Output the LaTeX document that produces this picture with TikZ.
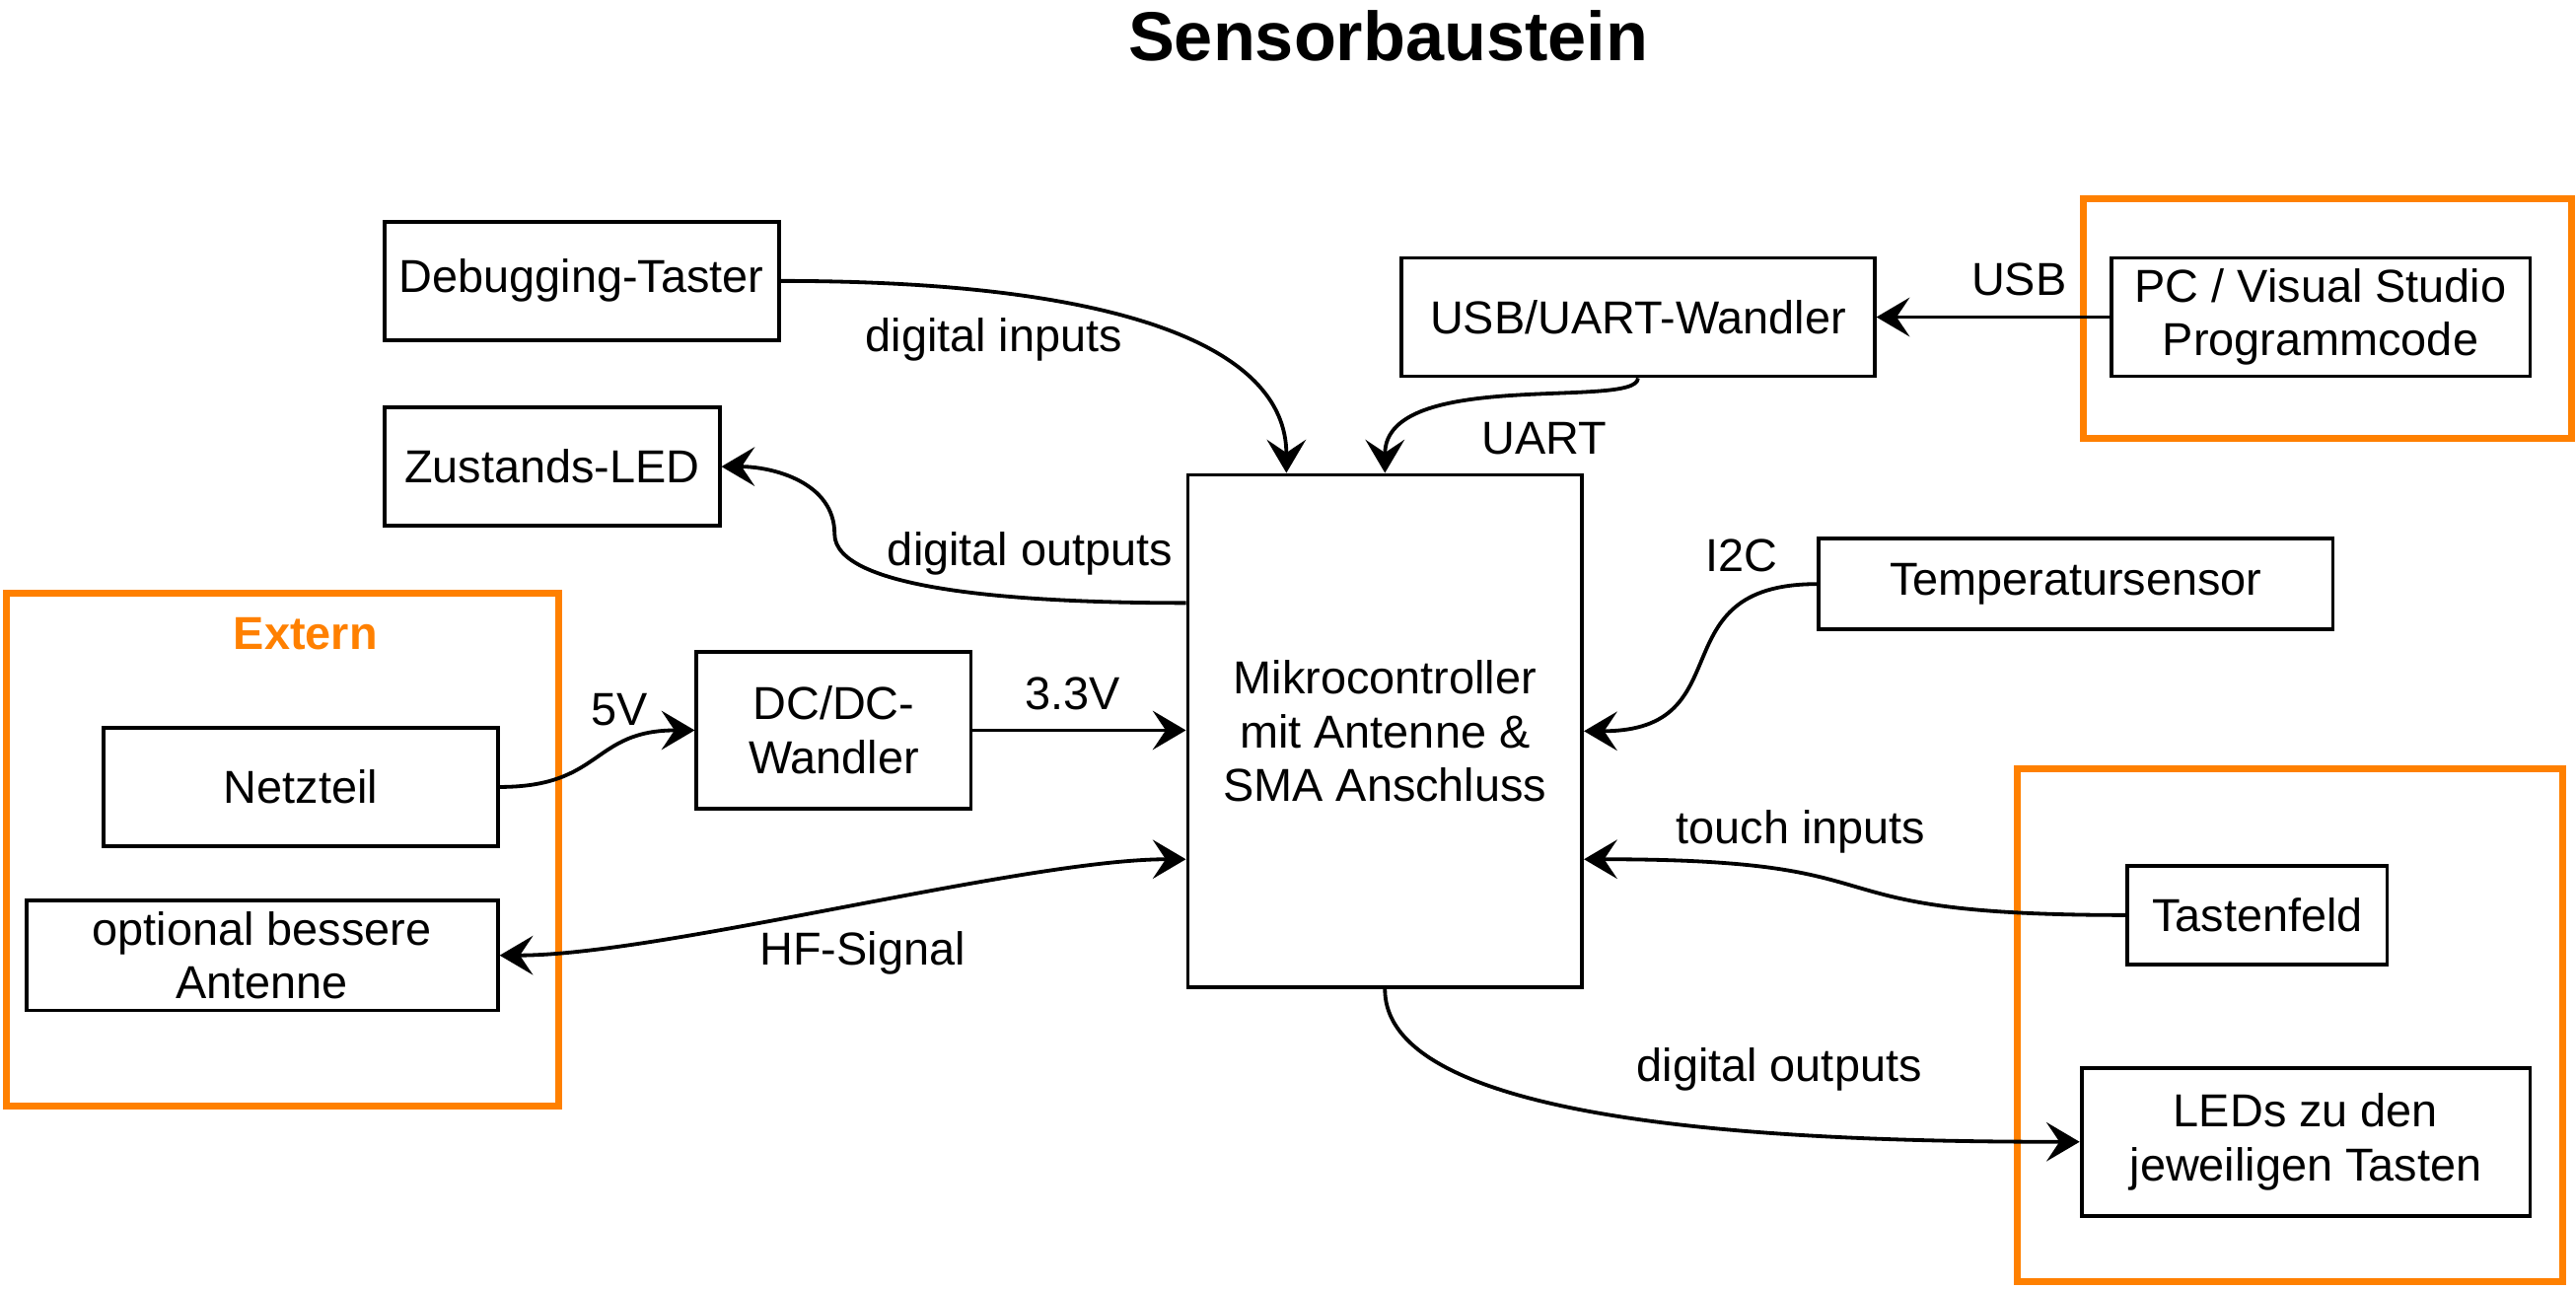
\documentclass[tikz,border=0pt]{standalone}
\usepackage{fontspec}
\setmainfont{Liberation Sans}
\usepackage{tikz}
\usetikzlibrary{arrows.meta}
\definecolor{extorange}{RGB}{255,128,0}

\begin{document}
\begin{tikzpicture}[
    >={Stealth[length=11.5pt,width=13.5pt,inset=4.5pt]},
    line width=1.3pt,
    font=\fontsize{16}{18.7}\selectfont,
    box/.style={draw, inner sep=0pt, align=center, minimum height=1.44cm},
    frame/.style={draw=extorange, line width=2.4pt}
  ]
      \useasboundingbox (0,0) rectangle (31.36,-15.7);
      \node[font=\fontsize{24}{28}\selectfont\bfseries] at (16.9,-0.44) (title){Sensorbaustein};

      % orange Rahmen
      \draw[frame] (0.08,-7.22) rectangle (6.8,-13.46);
      \draw[frame] (25.36,-2.42) rectangle (31.3,-5.34);
      \draw[frame] (24.56,-9.36) rectangle (31.2,-15.6);
      \node[text=extorange, font=\fontsize{16}{18.7}\selectfont\bfseries] at (3.72,-7.72) (ext){Extern};

      \node[box, minimum width=4.8cm] at (7.08,-3.42) (deb){Debugging-Taster};
      \node[box, minimum width=4.08cm] at (6.72,-5.68) (zled){Zustands-LED};
      \node[box, minimum width=4.8cm] at (3.66,-9.58) (netz){Netzteil};
      \node[box, minimum width=5.74cm, minimum height=1.34cm] at (3.19,-11.63) (ant){optional bessere\\Antenne};
      \node[box, minimum width=3.34cm, minimum height=1.9cm] at (10.15,-8.89) (dcdc){DC/DC-\\Wandler};
      \node[box, minimum width=4.8cm, minimum height=6.24cm] at (16.86,-8.9) (mc){Mikrocontroller\\mit Antenne \&\\SMA Anschluss};
      \node[box, minimum width=5.76cm] at (19.94,-3.86) (usb){USB/UART-Wandler};
      \node[box, minimum width=5.1cm] at (28.25,-3.86) (pc){PC / Visual Studio\\Programmcode};
      \node[box, minimum width=6.26cm, minimum height=1.1cm] at (25.27,-7.11) (temp){Temperatursensor};
      \node[box, minimum width=3.16cm, minimum height=1.2cm] at (27.48,-11.14) (tfeld){Tastenfeld};
      \node[box, minimum width=5.46cm, minimum height=1.8cm] at (28.07,-13.9) (leds){LEDs zu den\\jeweiligen Tasten};
      \coordinate (zbend) at (10.16,-6.5);

      % Verbindungen
      \draw[->] (deb.east) to[out=0,in=90,out looseness=1.6,in looseness=0.6] ([xshift=-1.2cm]mc.north);
      \draw[->] (usb.south) to[out=-90,in=90,out looseness=0.3,in looseness=1] (mc.north);
      \draw[->] (pc.west) -- (usb.east);
      \draw[->] ([yshift=1.56cm]mc.west) to[out=180,in=-90,out looseness=1.2,in looseness=0.4] (zbend) to[out=90,in=0] (zled.east);
      \draw[->] (netz.east) to[out=0,in=180,looseness=1.3] (dcdc.west);
      \draw[->] (dcdc.east) -- (dcdc.east -| mc.west);
      \draw[<->] (ant.east) to[out=0,in=180,looseness=0.6] ([yshift=-1.56cm]mc.west);
      \draw[->] (temp.west) to[out=180,in=0,looseness=1.5] (mc.east);
      \draw[->] (tfeld.west) to[out=180,in=0,looseness=1.6] ([yshift=-1.56cm]mc.east);
      \draw[->] (mc.south) to[out=-90,in=180,out looseness=0.5,in looseness=1] (leds.west);

      % Beschriftungen
      \node at (12.1,-4.14) (lin){digital inputs};
      \node at (18.8,-5.34) (luart){UART};
      \node at (24.58,-3.4) (lusb){USB};
      \node at (12.54,-6.74) (lout){digital outputs};
      \node at (7.54,-8.64) (lfive){5V};
      \node at (13.06,-8.44) (lthree){3.3V};
      \node at (10.5,-11.6) (lhf){HF-Signal};
      \node at (21.2,-6.76) (li2c){I2C};
      \node at (21.92,-10.12) (ltouch){touch inputs};
      \node at (21.66,-13.02) (lled){digital outputs};
\end{tikzpicture}
\end{document}
